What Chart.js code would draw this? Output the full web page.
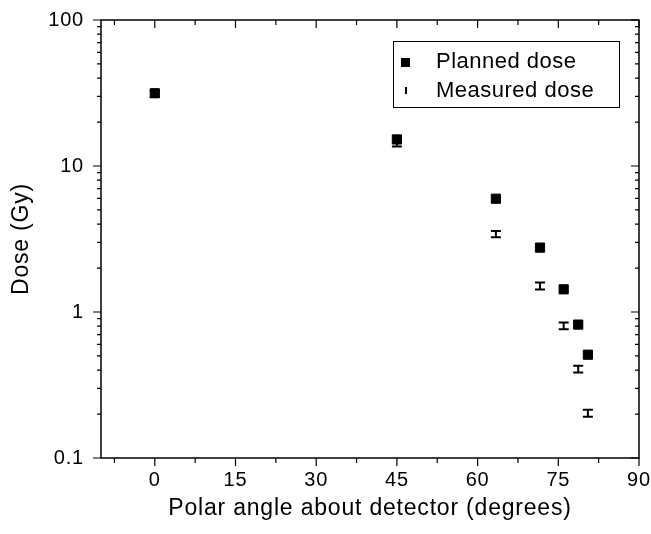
<!DOCTYPE html>
<html>
<head>
<meta charset="utf-8">
<script src="https://cdn.jsdelivr.net/npm/chart.js@4.4.1/dist/chart.umd.min.js"></script>
<style>
  html, body { margin: 0; padding: 0; background: #fff; }
  #wrap { width: 651px; height: 534px; }
</style>
</head>
<body>
<div id="wrap"><canvas id="doseChart" width="651" height="534"></canvas></div>
<script>
const angles = [0, 45, 63.4, 71.6, 76, 78.7, 80.5];
const plannedDose = [31.5, 15.2, 5.97, 2.76, 1.43, 0.82, 0.51];
const measuredDose = [31.3, 14.8, 3.42, 1.51, 0.805, 0.407, 0.203];
const measuredErr = [1.6, 1.2, 0.17, 0.085, 0.043, 0.022, 0.011];
const xTicks = [0, 15, 30, 45, 60, 75, 90];
const yTicks = [0.1, 1, 10, 100];
const seriesNames = ['Planned dose', 'Measured dose'];

const FONT = "'Liberation Sans', Arial, sans-serif";
Chart.defaults.font.family = FONT;
Chart.defaults.color = '#000';

// the reference text is a bit wider than Arial
const spacingPlugin = {
    id: 'spacing',
    beforeDraw(chart) { chart.ctx.letterSpacing = '0.8px'; }
};

// frame + ticks (outward bottom/left, inward top/right)
const framePlugin = {
    id: 'frame',
    afterDraw(chart) {
        const ctx = chart.ctx;
        const xs = chart.scales.x, ys = chart.scales.y;
        const { left, right, top, bottom } = chart.chartArea;
        ctx.save();
        ctx.strokeStyle = '#000';
        ctx.lineWidth = 1.5;
        ctx.strokeRect(left, top, right - left, bottom - top);
        ctx.lineWidth = 1.2;
        ctx.beginPath();
        const xMinor = [];
        for (let v = xTicks[0] - 7.5; v < xTicks[xTicks.length - 1]; v += 15) xMinor.push(v);
        xTicks.forEach(v => {
            const px = xs.getPixelForValue(v);
            ctx.moveTo(px, bottom); ctx.lineTo(px, bottom + 8);
            ctx.moveTo(px, top); ctx.lineTo(px, top + 8);
        });
        xMinor.forEach(v => {
            if (v < xs.min) return;
            const px = xs.getPixelForValue(v);
            ctx.moveTo(px, bottom); ctx.lineTo(px, bottom + 5);
            ctx.moveTo(px, top); ctx.lineTo(px, top + 5);
        });
        yTicks.forEach((d, i) => {
            const py = ys.getPixelForValue(d);
            ctx.moveTo(left - 8, py); ctx.lineTo(left, py);
            ctx.moveTo(right - 8, py); ctx.lineTo(right, py);
            if (i === yTicks.length - 1) return;
            for (let k = 2; k <= 9; k++) {
                const pm = ys.getPixelForValue(d * k);
                ctx.moveTo(left - 4, pm); ctx.lineTo(left, pm);
                ctx.moveTo(right - 4, pm); ctx.lineTo(right, pm);
            }
        });
        ctx.stroke();

        // legend box
        const bx = right - 20 - 226, by = top + 21, bw = 226, bh = 66;
        ctx.fillStyle = '#fff';
        ctx.fillRect(bx, by, bw, bh);
        ctx.lineWidth = 1;
        ctx.strokeRect(bx + 0.5, by + 0.5, bw, bh);
        ctx.fillStyle = '#000';
        ctx.fillRect(bx + 8, by + 17, 9, 9);
        ctx.fillRect(bx + 12, by + 46, 2, 7);
        ctx.font = '22px ' + FONT;
        ctx.letterSpacing = '0.5px';
        ctx.textBaseline = 'middle';
        ctx.textAlign = 'left';
        ctx.fillText(seriesNames[0], bx + 43, by + 21);
        ctx.fillText(seriesNames[1], bx + 43, by + 50);
        ctx.restore();
    }
};

// error bars for the measured series, drawn under the squares
const errorBarPlugin = {
    id: 'errorBars',
    beforeDatasetsDraw(chart) {
        const ctx = chart.ctx;
        const xs = chart.scales.x, ys = chart.scales.y;
        ctx.save();
        ctx.strokeStyle = '#000';
        ctx.lineWidth = 2;
        ctx.beginPath();
        angles.forEach((a, i) => {
            const px = xs.getPixelForValue(a);
            const yHi = ys.getPixelForValue(measuredDose[i] + measuredErr[i]);
            const yLo = ys.getPixelForValue(measuredDose[i] - measuredErr[i]);
            ctx.moveTo(px, yHi); ctx.lineTo(px, yLo);
            ctx.moveTo(px - 5, yHi); ctx.lineTo(px + 5, yHi);
            ctx.moveTo(px - 5, yLo); ctx.lineTo(px + 5, yLo);
        });
        ctx.stroke();
        ctx.restore();
    }
};

new Chart(document.getElementById('doseChart'), {
    type: 'scatter',
    data: {
        datasets: [
            {
                label: seriesNames[0],
                data: angles.map((a, i) => ({ x: a, y: plannedDose[i] })),
                pointStyle: 'rect',
                pointRadius: 6.5,
                backgroundColor: '#000',
                borderColor: '#000',
                borderWidth: 1
            },
            {
                label: seriesNames[1],
                data: angles.map((a, i) => ({ x: a, y: measuredDose[i] })),
                pointRadius: 0
            }
        ]
    },
    options: {
        responsive: false,
        animation: false,
        layout: { padding: { left: 0, top: 20, right: 12, bottom: 0 } },
        plugins: {
            legend: { display: false },
            tooltip: { enabled: false }
        },
        scales: {
            x: {
                type: 'linear',
                min: -10,
                max: 90,
                afterBuildTicks: s => { s.ticks = xTicks.map(v => ({ value: v })); },
                afterFit: s => { s.height = 76; s.paddingLeft = 0; s.paddingRight = 0; },
                grid: { display: false, drawTicks: false },
                border: { display: false },
                ticks: { font: { size: 20 }, padding: 10, maxRotation: 0, autoSkip: false },
                title: {
                    display: true,
                    text: 'Polar angle about detector (degrees)',
                    font: { size: 23 },
                    padding: { top: 0, bottom: 12 }
                }
            },
            y: {
                type: 'logarithmic',
                min: 0.1,
                max: 100,
                afterBuildTicks: s => { s.ticks = yTicks.map(v => ({ value: v })); },
                afterFit: s => { s.width = 101; s.paddingTop = 0; s.paddingBottom = 0; },
                grid: { display: false, drawTicks: false },
                border: { display: false },
                ticks: { font: { size: 20 }, padding: 17, callback: v => String(v) },
                title: {
                    display: true,
                    text: 'Dose (Gy)',
                    font: { size: 23 },
                    padding: { top: 8, bottom: 0 }
                }
            }
        }
    },
    plugins: [spacingPlugin, errorBarPlugin, framePlugin]
});
</script>
</body>
</html>
